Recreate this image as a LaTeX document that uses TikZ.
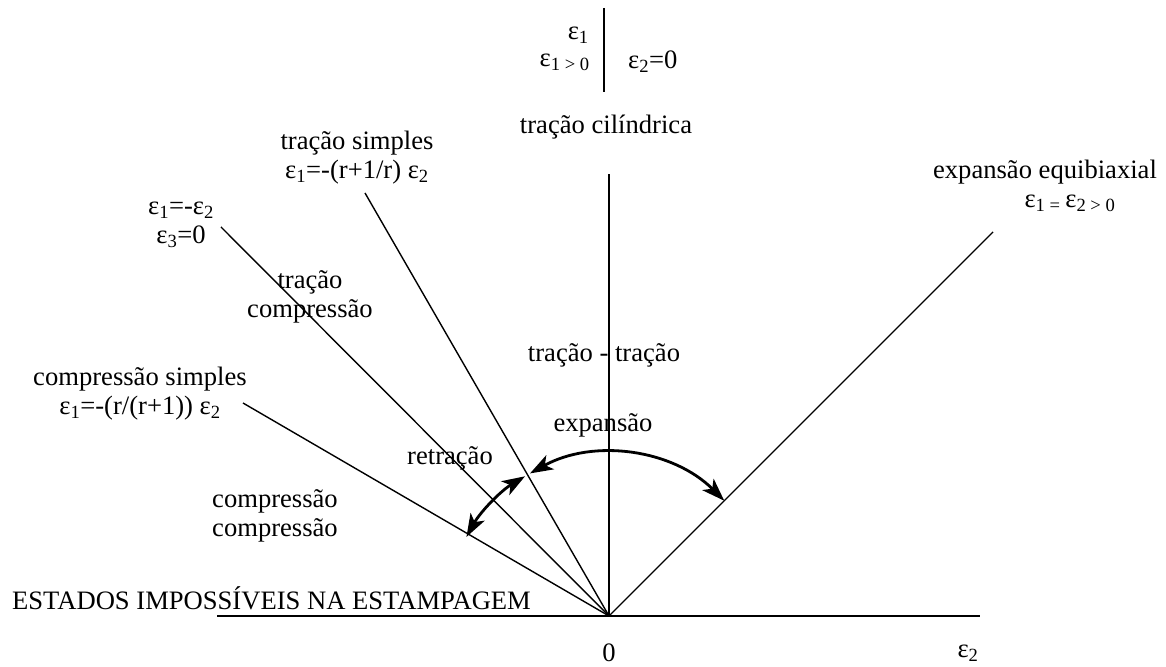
\documentclass[tikz,border=0pt]{standalone}
\usepackage{fontspec}
\setmainfont{Liberation Serif}
\usepackage{tikz}
\usetikzlibrary{arrows.meta,positioning,calc}
\definecolor{dInk}{RGB}{0,0,0}
\newcommand{\eps}[1]{ε\textsubscript{#1}}
\tikzset{
	axisline/.style={draw=dInk,line width=1.4pt},
	bar/.style={draw=dInk,line width=1.6pt},
	arcarrow/.style={draw=dInk,line width=2.8pt,{Stealth[length=23pt,width=16pt,inset=6pt]}-{Stealth[length=23pt,width=16pt,inset=6pt]}},
	lbl/.style={inner sep=0pt,align=center,font=\fontsize{26.6}{29}\selectfont}
}

\begin{document}
\begin{tikzpicture}[x=1pt,y=1pt]
			\useasboundingbox (0,0) rectangle (1166,666);
			% origin and ends of the lines
			\coordinate (O) at (609,50);
			\coordinate (axL) at (217,50);
			\coordinate (axR) at (980,50);
			\coordinate (cyl) at (609,492);
			\coordinate (equi) at (993,434);
			\coordinate (simp) at (365,473);
			\coordinate (plane) at (221,439);
			\coordinate (comp) at (243,263);
			\coordinate (barT) at (604,658);
			\coordinate (barB) at (604,574);

			\draw[axisline] (axL) -- (axR);
			\draw[axisline] (O) -- (cyl);
			\draw[axisline] (O) -- (equi);
			\draw[axisline] (O) -- (simp);
			\draw[axisline] (O) -- (plane);
			\draw[axisline] (O) -- (comp);
			\draw[bar] (barT) -- (barB);

			% arcs
			\draw[arcarrow] ($(O)+(45:163)$) arc[start angle=45,end angle=119,radius=163];
			\draw[arcarrow] ($(O)+(121:163)$) arc[start angle=121,end angle=151,radius=163];

			% labels at the top
			\node[lbl,anchor=east] (e1) at (589,631) {\eps{1}};
			\node[lbl,anchor=east] (e1pos) at (590,604) {\eps{1 > 0}};
			\node[lbl,anchor=west] (e2zero) at (628,604) {\eps{2}=0};
			\node[lbl] (cilind) at (606,539) {tração cilíndrica};

			\node[lbl] (tsimp) at (357,508) {tração simples\\\eps{1}=-(r+1/r) \eps{2}};
			\node[lbl] (eplane) at (181,441) {\eps{1}=-\eps{2}\\\eps{3}=0};
			\node[lbl] (tcomp) at (310,369) {tração\\compressão};
			\node[lbl] (ttrac) at (604,311) {tração - tração};
			\node[lbl] (csimp) at (140,272) {compressão simples\\\eps{1}=-(r/(r+1)) \eps{2}};
			\node[lbl] (expan) at (603,241) {expansão};
			\node[lbl] (retra) at (450,208) {retração};
			\node[lbl] (ccomp) at (275,150) {compressão\\compressão};
			\node[lbl,anchor=west] (impos) at (12,68) {ESTADOS IMPOSSÍVEIS NA ESTAMPAGEM};
			\node[lbl] (zero) at (609,13) {0};
			\node[lbl] (e2ax) at (968,13) {\eps{2}};
			\node[lbl] (ebiax) at (1045,480) {expansão equibiaxial\\\hspace*{50pt}ε\textsubscript{1 = }ε\textsubscript{2 > 0}};
		\end{tikzpicture}
\end{document}
